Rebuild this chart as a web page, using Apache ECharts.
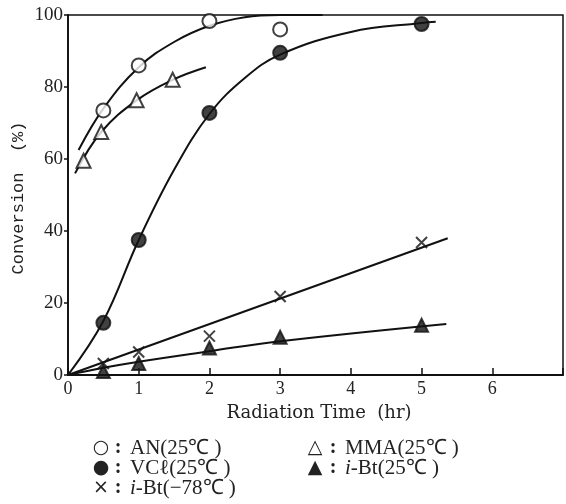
<!DOCTYPE html>
<html><head><meta charset="utf-8">
<script src="https://cdn.jsdelivr.net/npm/echarts@6/dist/echarts.min.js"></script>
<style>html,body{margin:0;padding:0;background:#fff}#c{width:566px;height:504px}</style>
</head><body><div id="c"></div>
<script>
// x tick labels and y tick labels
const xTickLabels = ['0','1','2','3','4','5','6'];
const yTickLabels = ['0','20','40','60','80','100'];

// measured points
const anPoints = [[0.5,73.5],[1,86],[2,98.3],[3,96],[5,100.3]];
const mmaPoints = [[0.22,59.5],[0.47,67.5],[0.97,76.3],[1.48,82]];
const vclPoints = [[0.5,14.5],[1,37.5],[2,72.8],[3,89.5],[5,97.5]];
const ibtColdPoints = [[0.5,3.2],[1,6.4],[2,10.8],[3,21.8],[5,36.8]];
const ibtWarmPoints = [[0.5,1],[1,3.2],[2,7.5],[3,10.5],[5,13.8]];

// hand-drawn fitted curves
const anCurve = [[0.15,62.5],[0.5,74],[1,85.5],[1.5,92.5],[2,97],[2.5,99.4],[3,100],[3.6,100]];
const mmaCurve = [[0.1,56],[0.47,67.5],[0.97,76.3],[1.48,82],[1.95,85.5]];
const vclCurve = [[0,0],[0.5,15],[1,37.5],[1.5,57],[2,72.5],[2.5,82.5],[3,89],[4,95.3],[5,97.8],[5.2,98.1]];
const ibtColdCurve = [[0,0],[5.37,38]];
const ibtWarmCurve = [[0,0],[0.5,2],[1,3.7],[2,6.6],[3,9.4],[5.35,14.2]];

const legendRows = [
  {sym:'○', label:'AN(25℃ )', col:0, row:0},
  {sym:'△', label:'MMA(25℃ )', col:1, row:0},
  {sym:'●', label:'VCℓ(25℃ )', col:0, row:1},
  {sym:'▲', label:'{it|i}-Bt(25℃ )', col:1, row:1},
  {sym:'×', label:'{it|i}-Bt(−78℃ )', col:0, row:2}
];

const FONT = 'Liberation Serif';
const chart = echarts.init(document.getElementById('c'), null, {renderer:'canvas'});

function curve(data){
  return {type:'line', data:data, smooth:0.4, symbol:'none', silent:true,
    lineStyle:{color:'#111', width:2}, z:2};
}
function marks(data, symbol, fill, size){
  return {type:'scatter', data:data, symbol:symbol, symbolSize:size,
    itemStyle:{color:fill, borderColor:'#111', borderWidth:2}, z:5};
}

const graphics = [];
graphics.push({type:'text', x:18, y:198, rotation:Math.PI/2, style:{text:'Conversion  (%)', font:'17px Liberation Mono', fill:'#222', textAlign:'center', textVerticalAlign:'middle'}});
graphics.push({type:'text', x:319, y:413, style:{text:'Radiation Time  (hr)', font:'18px DejaVu Serif', fill:'#222', textAlign:'center', textVerticalAlign:'middle'}});
const colX = [[101,118,130],[315,333,345]];
const rowY = [448,468,488];
legendRows.forEach(r=>{
  const cx = colX[r.col], y = rowY[r.row];
  graphics.push({type:'text', x:cx[0], y:y, style:{text:r.sym, font:'19px DejaVu Sans', fill:'#222', textAlign:'center', textVerticalAlign:'middle'}});
  graphics.push({type:'text', x:cx[1], y:y, style:{text:':', font:'bold 20px '+FONT, fill:'#222', textAlign:'center', textVerticalAlign:'middle'}});
  graphics.push({type:'text', x:cx[2], y:y, style:{rich:{it:{fontStyle:'italic', fontFamily:FONT, fontSize:21, fill:'#222'}}, text:r.label, font:'21px '+FONT, fill:'#222', textAlign:'left', textVerticalAlign:'middle'}});
});

chart.setOption({
  animation:false,
  backgroundColor:'#fff',
  grid:{left:68, right:1, top:15, bottom:129, show:true, borderColor:'#111', borderWidth:1.5},
  xAxis:{type:'value', min:0, max:7, interval:1,
    axisLine:{show:true, onZero:false, lineStyle:{color:'#111', width:1.8}},
    axisTick:{show:true, inside:true, length:7, lineStyle:{color:'#111', width:1.5}},
    axisLabel:{color:'#222', fontFamily:FONT, fontSize:18, margin:5,
      formatter:v=> xTickLabels[v] !== undefined ? xTickLabels[v] : ''},
    splitLine:{show:false}},
  yAxis:{type:'value', min:0, max:100, interval:20,
    axisLine:{show:true, lineStyle:{color:'#111', width:1.8}},
    axisTick:{show:true, inside:false, length:4, lineStyle:{color:'#111', width:1.5}},
    axisLabel:{color:'#222', fontFamily:FONT, fontSize:19, margin:5,
      formatter:v=> yTickLabels[v/20]},
    splitLine:{show:false}},
  graphic:graphics,
  series:[
    curve(anCurve), curve(mmaCurve), curve(vclCurve), curve(ibtColdCurve), curve(ibtWarmCurve),
    marks(anPoints,'circle','#fff',14),
    marks(mmaPoints,'triangle','#fff',14),
    marks(vclPoints,'circle','#111',14),
    marks(ibtWarmPoints,'triangle','#111',13),
    marks(ibtColdPoints,'path://M0,0L10,10M10,0L0,10','rgba(0,0,0,0)',11)
  ]
});
</script></body></html>
